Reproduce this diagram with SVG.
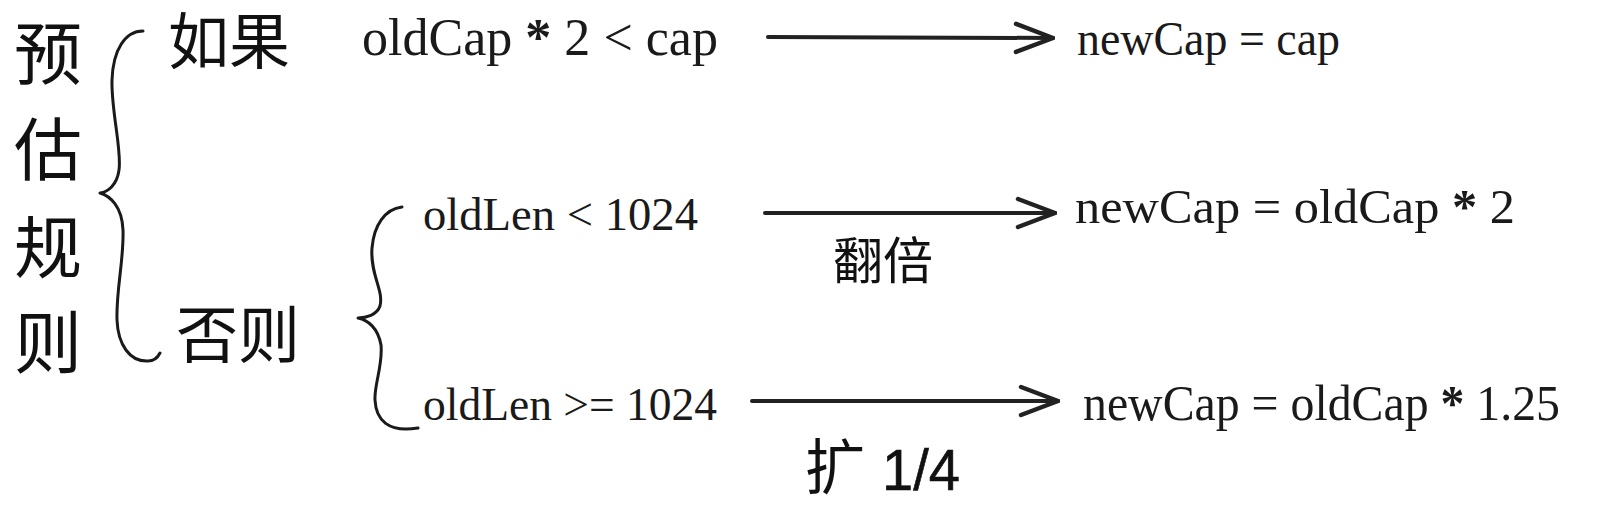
<svg xmlns="http://www.w3.org/2000/svg" width="1598" height="508" viewBox="0 0 1598 508">
  <style>
    .cjk { font-family: "Noto Sans CJK SC", "Noto Sans", sans-serif; fill: #111; }
    .code { font-family: "Liberation Serif", "DejaVu Serif", serif; fill: #1a1a1a; }
    .star { font-weight: bold; }
    .num { font-family: "Liberation Sans", "DejaVu Sans", sans-serif; fill: #111; stroke: #111; stroke-width: 0.6; }
    .brace { fill: none; stroke: #1a1a1a; stroke-width: 3; stroke-linecap: round; stroke-linejoin: round; }
    .conn { fill: none; stroke: #222; stroke-width: 4; stroke-linecap: round; }
  </style>
  <defs>
    <marker id="chev" viewBox="0 0 42 34" refX="40" refY="17" markerWidth="42" markerHeight="34" markerUnits="userSpaceOnUse" orient="auto">
      <path d="M3,3 L40,17 L3,31" fill="none" stroke="#222" stroke-width="4.5" stroke-linecap="round" stroke-linejoin="round"/>
    </marker>
  </defs>
  <rect width="1598" height="508" fill="#ffffff"/>

  <g id="title">
    <text class="cjk" x="14" y="79" font-size="68">预</text>
    <text class="cjk" x="14" y="175" font-size="68">估</text>
    <text class="cjk" x="14" y="273" font-size="68">规</text>
    <text class="cjk" x="14" y="368" font-size="68">则</text>
  </g>

  <g id="brace-main">
    <path class="brace" d="M143,31 C125,31 113,50 112,80 C111,110 122,150 119,170 C117,185 108,192 100,193 C110,196 122,206 123,230 C124,260 116,290 117,320 C118,345 130,362 148,361 C154,361 158,357 160,353"/>
  </g>

  <g id="if">
    <text class="cjk" x="168" y="64" font-size="61">如果</text>
  </g>
  <g id="else">
    <text class="cjk" x="176" y="358" font-size="62">否则</text>
  </g>

  <g id="brace-else">
    <path class="brace" d="M402,207 C385,209 374,225 372,248 C370,275 384,290 380,306 C377,315 366,318 358,318 C368,320 378,328 381,345 C383,365 374,385 375,400 C376,420 388,433 418,428"/>
  </g>

  <g id="cond1">
    <text class="code" x="362" y="55" font-size="52" textLength="356" lengthAdjust="spacingAndGlyphs">oldCap <tspan class="star">*</tspan> 2 &lt; cap</text>
  </g>
  <g id="cond2">
    <text class="code" x="423" y="230" font-size="46" textLength="275" lengthAdjust="spacingAndGlyphs">oldLen &lt; 1024</text>
  </g>
  <g id="cond3">
    <text class="code" x="423" y="420" font-size="46" textLength="294" lengthAdjust="spacingAndGlyphs">oldLen &gt;= 1024</text>
  </g>

  <g id="res1">
    <text class="code" x="1077" y="55" font-size="48" textLength="263" lengthAdjust="spacingAndGlyphs">newCap = cap</text>
  </g>
  <g id="res2">
    <text class="code" x="1075" y="223" font-size="48" textLength="440" lengthAdjust="spacingAndGlyphs">newCap = oldCap <tspan class="star">*</tspan> 2</text>
  </g>
  <g id="res3">
    <text class="code" x="1083" y="420" font-size="50" textLength="477" lengthAdjust="spacingAndGlyphs">newCap = oldCap <tspan class="star">*</tspan> 1.25</text>
  </g>

  <g id="connectors">
    <line class="conn" x1="768" y1="37" x2="1053" y2="38" marker-end="url(#chev)"/>
    <line class="conn" x1="765" y1="213" x2="1055" y2="213" marker-end="url(#chev)"/>
    <line class="conn" x1="752" y1="401" x2="1058" y2="401" marker-end="url(#chev)"/>
    <text class="cjk" x="833" y="279" font-size="50">翻倍</text>
    <text class="cjk" x="805" y="489" font-size="60">扩</text>
    <text class="num" x="882" y="490" font-size="58" textLength="78" lengthAdjust="spacingAndGlyphs">1/4</text>
  </g>
</svg>
